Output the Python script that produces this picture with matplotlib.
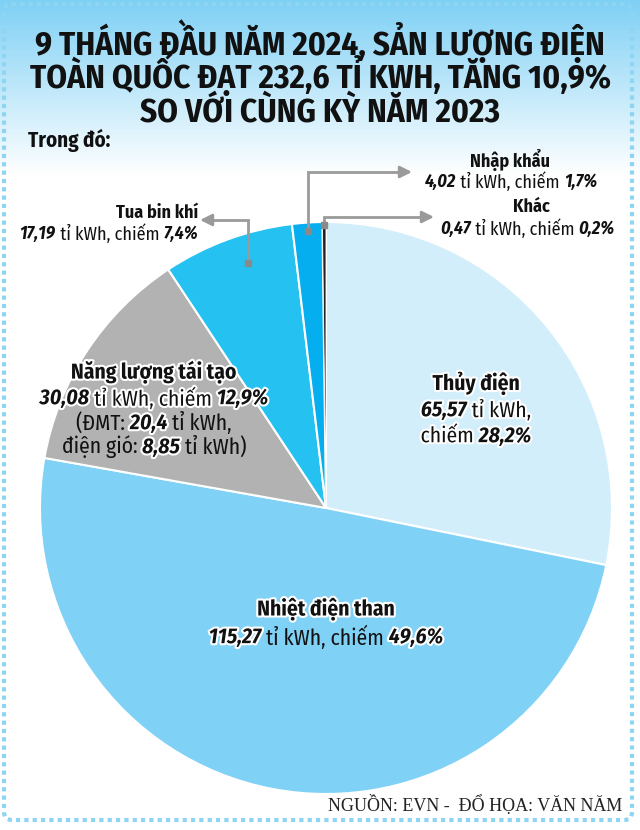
import numpy as np
import matplotlib
matplotlib.use("Agg")
import matplotlib.pyplot as plt
import matplotlib.transforms as mtransforms
import matplotlib.patheffects as pe
from matplotlib.patches import FancyBboxPatch

# Dữ liệu (tỉ kWh, %)
nguon = ["Thủy điện", "Nhiệt điện than", "Năng lượng tái tạo", "Tua bin khí", "Nhập khẩu", "Khác"]
san_luong = [65.57, 115.27, 30.08, 17.19, 4.02, 0.47]
ti_le = [28.2, 49.6, 12.9, 7.4, 1.7, 0.2]
mau = ["#d3eefb", "#80d1f6", "#b2b2b2", "#25c2f1", "#05aeee", "#222222"]

W, H = 640, 830
FONT = ["Fira Sans Condensed", "DejaVu Sans"]
SERIF = ["Liberation Serif", "DejaVu Serif"]

fig = plt.figure(figsize=(W / 100, H / 100), dpi=100)
px = mtransforms.Affine2D().scale(1 / W, -1 / H).translate(0, 1) + fig.transFigure

# nền: gradient xanh ở trên
bg = fig.add_axes([0, 0, 1, 1])
bg.set_xlim(0, W); bg.set_ylim(H, 0); bg.axis("off")
grad = np.linspace(0, 1, 200)[:, None]
top = np.array([0x7e, 0xd0, 0xf5]) / 255
cols = top[None, None, :] * (1 - grad[:, :, None]) + np.ones(3)[None, None, :] * grad[:, :, None]
bg.imshow(np.repeat(cols, 2, axis=1), extent=(0, W, 175, 0), aspect="auto", zorder=0)
bg.add_patch(FancyBboxPatch((4, 4), W - 12, H - 14, boxstyle="round,pad=0,rounding_size=8",
                            fill=False, ec="#8ed4f3", lw=3, ls=(0, (1, 1)), zorder=5))

# pie
cx, cy, R = 326, 508, 286
ax = fig.add_axes([(cx - R) / W, 1 - (cy + R) / H, 2 * R / W, 2 * R / H])
wedges, _ = ax.pie(ti_le, colors=mau, startangle=90, counterclock=False,
                   wedgeprops=dict(edgecolor="white", linewidth=1.5))
wedges[-1].set_linewidth(0.6)
ax.set_xlim(-1, 1); ax.set_ylim(-1, 1); ax.set_aspect("equal")

# lớp trên cùng cho đường chỉ dẫn
ov = fig.add_axes([0, 0, 1, 1])
ov.set_xlim(0, W); ov.set_ylim(H, 0); ov.axis("off")
ov.patch.set_alpha(0)

renderer = fig.canvas.get_renderer()


def rich(x, y, parts, size, ha="center"):
    texts = []
    for s, st in parts:
        kw = dict(fontsize=size, family=FONT, va="center", transform=px, zorder=10, color="#111111")
        if "b" in st:
            kw["fontweight"] = "bold"
        if "i" in st:
            kw["fontstyle"] = "italic"
        t = fig.text(0, 0, s, **kw)
        if "o" in st:
            t.set_path_effects([pe.withStroke(linewidth=3, foreground="white")])
        texts.append(t)
    widths = [t.get_window_extent(renderer).width for t in texts]
    total = sum(widths)
    start = {"center": x - total / 2, "right": x - total, "left": x}[ha]
    for t, w in zip(texts, widths):
        t.set_position((start, y))
        start += w


# tiêu đề
title = ["9 THÁNG ĐẦU NĂM 2024, SẢN LƯỢNG ĐIỆN",
         "TOÀN QUỐC ĐẠT 232,6 TỈ KWH, TĂNG 10,9%",
         "SO VỚI CÙNG KỲ NĂM 2023"]
probe = fig.text(0, 0, title[1], fontsize=25, fontweight="bold", family=FONT)
fs = 25 * 580 / probe.get_window_extent(renderer).width
probe.remove()
for i, line in enumerate(title):
    fig.text(320, 55 + 33.5 * i, line, transform=px, ha="center", va="baseline",
             fontsize=fs, fontweight="bold", family=FONT, color="#111111")
fig.text(28, 140, "Trong đó:", transform=px, ha="left", va="center",
         fontsize=15, fontweight="bold", family=FONT, color="#111111")

# nhãn trong lát
rich(476, 383, [("Thủy điện", "bo")], 15.5)
rich(476, 410, [("65,57", "bio"), (" tỉ kWh,", "o")], 15.5)
rich(476, 436, [("chiếm ", "o"), ("28,2%", "bio")], 15.5)

rich(326, 609, [("Nhiệt điện than", "bo")], 15.5)
rich(326, 637, [("115,27", "bio"), (" tỉ kWh, chiếm ", ""), ("49,6%", "bio")], 15.5)

rich(154, 372, [("Năng lượng tái tạo", "bo")], 15.5)
rich(154, 398, [("30,08", "bio"), (" tỉ kWh, chiếm ", "o"), ("12,9%", "bio")], 15.5)
rich(154, 423, [("(ĐMT: ", ""), ("20,4", "bio"), (" tỉ kWh,", "")], 15.5)
rich(154, 447, [("điện gió: ", ""), ("8,85", "bio"), (" tỉ kWh)", "")], 15.5)

# nhãn bên ngoài
rich(157, 213, [("Tua bin khí", "b")], 13)
rich(198, 234, [("17,19", "bi"), (" tỉ kWh, chiếm ", ""), ("7,4%", "bi")], 13, ha="right")
rich(510, 160, [("Nhập khẩu", "b")], 13)
rich(597, 182, [("4,02", "bi"), (" tỉ kWh, chiếm ", ""), ("1,7%", "bi")], 13, ha="right")
rich(531, 207, [("Khác", "b")], 13)
rich(615, 229, [("0,47", "bi"), (" tỉ kWh, chiếm ", ""), ("0,2%", "bi")], 13, ha="right")

# đường chỉ dẫn: (lát, bán kính, góc lệch, y khuỷu, x mũi tên)
to_px = ax.transData + px.inverted()
leader = [(3, 0.9, -2.5, 220, 200), (4, 0.97, 0, 172, 412), (5, 0.99, 0, 217, 434)]
for idx, r, dth, ey, tx in leader:
    w = wedges[idx]
    th = np.deg2rad((w.theta1 + w.theta2) / 2 + dth)
    sx, sy = to_px.transform((r * np.cos(th), r * np.sin(th)))
    d = 1 if tx < sx else -1
    ov.plot([sx, sx, tx + 8 * d], [sy, ey, ey], color="#9a9a9a", lw=2, zorder=6,
            solid_joinstyle="miter")
    ov.plot([sx], [sy], marker="s", ms=4, color="#8a8a8a", zorder=7)
    ov.annotate("", xy=(tx, ey), xytext=(tx + 10 * d, ey),
                arrowprops=dict(arrowstyle="-|>,head_length=0.7,head_width=0.35",
                                color="#9a9a9a", lw=2, shrinkA=0, shrinkB=0), zorder=7)

fig.text(622, 805, "NGUỒN: EVN -  ĐỔ HỌA: VĂN NĂM", transform=px, ha="right", va="center",
         fontsize=13, family=SERIF, color="#222222")

fig.savefig("out.png", dpi=100)
